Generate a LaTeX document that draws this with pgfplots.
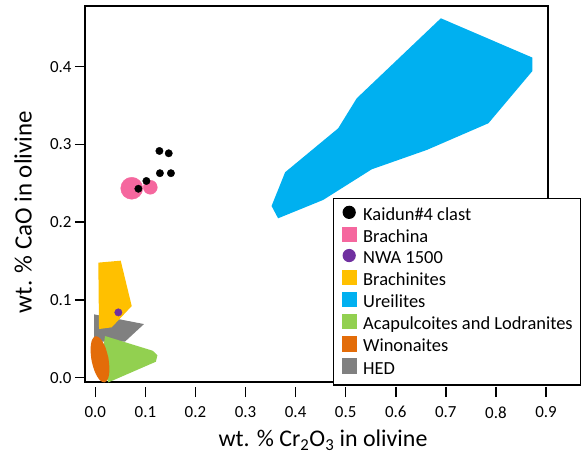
\documentclass[border=0pt]{standalone}
\usepackage{pgfplots}
\pgfplotsset{compat=1.18}
\usepackage{fontspec}
\setmainfont{Carlito}
\definecolor{kpink}{HTML}{F5679E}
\definecolor{kpurple}{HTML}{7030A0}
\definecolor{kyellow}{HTML}{FFC000}
\definecolor{kblue}{HTML}{00B0F0}
\definecolor{kgreen}{HTML}{92D050}
\definecolor{korange}{HTML}{E36C09}
\definecolor{kgray}{HTML}{808080}
\begin{document}
\begin{tikzpicture}
\useasboundingbox (0bp,0bp) rectangle (584bp,454bp);
\begin{axis}[
  at={(85bp,72bp)}, anchor=south west,
  width=463bp, height=376bp, scale only axis,
  xmin=-0.0206, xmax=0.904, ymin=-0.0055, ymax=0.478,
  xtick={0,0.1,0.2,0.3,0.4,0.5,0.6,0.7,0.8,0.9},
  ytick={0,0.1,0.2,0.3,0.4},
  tick align=outside, major tick length=10bp,
  xtick pos=bottom, ytick pos=left,
  axis line style={line width=1.3bp},
  tick style={line width=1.5bp, black},
  major x tick style={yshift=-5bp},
  /pgf/number format/assume math mode=true,
  /pgf/number format/fixed, /pgf/number format/fixed zerofill,
  /pgf/number format/precision=1,
  tick label style={font=\fontsize{17}{20}\selectfont},
  xticklabel style={yshift=-11bp},
  xlabel={wt. \% Cr\textsubscript{2}O\textsubscript{3} in olivine},
  ylabel={wt. \% CaO in olivine},
  xlabel style={font=\fontsize{24}{28}\selectfont, at={(axis description cs:0.514,-0.154)}, anchor=center},
  ylabel style={font=\fontsize{25}{28}\selectfont, at={(axis description cs:-0.134,0.452)}, anchor=center},
  legend cell align=left,
  legend style={at={(axis description cs:0.5356,0.489)}, anchor=north west,
    draw=black, line width=1.2bp, fill=white,
    font=\fontsize{18.5}{22}\selectfont,
    nodes={inner sep=0bp, text height=12bp, text depth=4bp},
    row sep=2.5bp, inner xsep=8bp, inner ysep=7bp},
]
% Ureilites
\addplot[forget plot, fill=kblue, draw=none] coordinates {
 (0.690,0.4622) (0.873,0.4116) (0.873,0.3945) (0.785,0.3272) (0.662,0.2929)
 (0.552,0.268) (0.455,0.2286) (0.365,0.205) (0.352,0.2208) (0.379,0.2642)
 (0.485,0.3207) (0.522,0.3593)} -- cycle;
% HED
\addplot[forget plot, fill=kgray, draw=none] coordinates {
 (-0.0026,0.0815) (0.0972,0.069) (0.059,0.0463) (-0.0026,0.0463)} -- cycle;
% Brachinites
\addplot[forget plot, fill=kyellow, draw=none] coordinates {
 (0.006,0.148) (0.0507,0.1505) (0.0727,0.0922) (0.0327,0.0648) (0.0074,0.0626)} -- cycle;
% Acapulcoites and Lodranites
\addplot[forget plot, fill=kgreen, draw=none] coordinates {
 (0.0194,0.0536) (0.1146,0.0347) (0.124,0.029) (0.121,0.0206) (0.026,-0.006) (0.012,0.02)} -- cycle;
% Winonaites
\addplot[forget plot, fill=korange, draw=none, smooth] coordinates {
 (0.0261,0.0258) (0.0194,0.0403) (0.0100,0.0504) (0.0004,0.0534) (-0.0067,0.0484)
 (-0.0095,0.0367) (-0.0073,0.0216) (-0.0006,0.0071) (0.0088,-0.0030) (0.0184,-0.0060)
 (0.0255,-0.0010) (0.0283,0.0107) (0.0261,0.0258)} -- cycle;
% Brachina
\addplot[forget plot, only marks, mark=*, mark size=7bp, kpink] coordinates {(0.1098,0.2449)};
\addplot[forget plot, only marks, mark=*, mark size=11bp, kpink] coordinates {(0.0727,0.2436)};
% NWA 1500
\addplot[forget plot, only marks, mark=*, mark size=3.7bp, kpurple] coordinates {(0.046,0.084)};
% Kaidun
\addplot[forget plot, only marks, mark=*, mark size=3.7bp, black] coordinates {
 (0.128,0.2916) (0.1466,0.2886) (0.129,0.263) (0.151,0.263) (0.102,0.253) (0.086,0.243)};
% legend
\addlegendimage{legend image code/.code={\fill[black] (7bp,4bp) circle (6bp); \path[draw=none] (0bp,4bp) -- (21bp,4bp);}}
\addlegendentry{Kaidun\#4 clast}
\addlegendimage{legend image code/.code={\fill[kpink] (0bp,-3bp) rectangle (14bp,11bp); \path[draw=none] (0bp,4bp) -- (21bp,4bp);}}
\addlegendentry{Brachina}
\addlegendimage{legend image code/.code={\fill[kpurple] (7bp,4bp) circle (6bp); \path[draw=none] (0bp,4bp) -- (21bp,4bp);}}
\addlegendentry{NWA 1500}
\addlegendimage{legend image code/.code={\fill[kyellow] (0bp,-3bp) rectangle (14bp,11bp); \path[draw=none] (0bp,4bp) -- (21bp,4bp);}}
\addlegendentry{Brachinites}
\addlegendimage{legend image code/.code={\fill[kblue] (0bp,-3bp) rectangle (14bp,11bp); \path[draw=none] (0bp,4bp) -- (21bp,4bp);}}
\addlegendentry{Ureilites}
\addlegendimage{legend image code/.code={\fill[kgreen] (0bp,-3bp) rectangle (14bp,11bp); \path[draw=none] (0bp,4bp) -- (21bp,4bp);}}
\addlegendentry{Acapulcoites and Lodranites}
\addlegendimage{legend image code/.code={\fill[korange] (0bp,-3bp) rectangle (14bp,11bp); \path[draw=none] (0bp,4bp) -- (21bp,4bp);}}
\addlegendentry{Winonaites}
\addlegendimage{legend image code/.code={\fill[kgray] (0bp,-3bp) rectangle (14bp,11bp); \path[draw=none] (0bp,4bp) -- (21bp,4bp);}}
\addlegendentry{HED}
\end{axis}
\end{tikzpicture}
\end{document}
